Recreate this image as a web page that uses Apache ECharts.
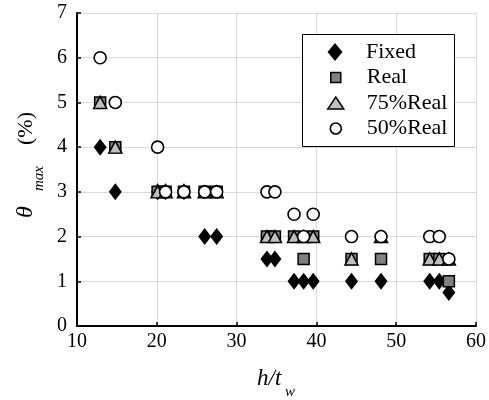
<!DOCTYPE html>
<html>
<head>
<meta charset="utf-8">
<style>
  html, body { margin: 0; padding: 0; background: #fff; }
  #chart { width: 489px; height: 400px; }
</style>
<script src="https://cdn.jsdelivr.net/npm/echarts@6/dist/echarts.min.js"></script>
</head>
<body>
<div id="chart"></div>
<script>
// h/tw of each specimen and theta_max (%) for each model
const hTw     = [12.9, 14.8, 20.1, 21.1, 23.4, 26.0, 27.5, 33.8, 34.8, 37.2, 38.4, 39.6, 44.4, 48.1, 54.2, 55.4, 56.6];
const fixed   = [4.0, 3.0, 3.0, 3.0, 3.0, 2.0, 2.0, 1.5, 1.5, 1.0, 1.0, 1.0, 1.0, 1.0, 1.0, 1.0, 0.75];
const real    = [5.0, 4.0, 3.0, 3.0, 3.0, 3.0, 3.0, 2.0, 2.0, 2.0, 1.5, 2.0, 1.5, 1.5, 1.5, 1.5, 1.0];
const real75  = [5.0, 4.0, 3.0, 3.0, 3.0, 3.0, 3.0, 2.0, 2.0, 2.0, 2.0, 2.0, 1.5, 2.0, 1.5, 1.5, 1.5];
const real50  = [6.0, 5.0, 4.0, 3.0, 3.0, 3.0, 3.0, 3.0, 3.0, 2.5, 2.0, 2.5, 2.0, 2.0, 2.0, 2.0, 1.5];
const seriesNames = ['Fixed', 'Real', '75%Real', '50%Real'];

const FONT = '"Liberation Serif", "DejaVu Serif", serif';
const chart = echarts.init(document.getElementById('chart'));

const pairs = ys => hTw.map((x, i) => [x, ys[i]]);

// marker look per series
const markers = [
  { symbol: 'diamond', size: [13, 17], legendSize: [15, 18], style: { color: '#000', borderColor: '#000', borderWidth: 0, opacity: 1 } },
  { symbol: 'rect', size: [11, 11], legendSize: [10, 10], style: { color: '#808080', borderColor: '#000', borderWidth: 1.5, opacity: 1 } },
  { symbol: 'triangle', size: [13, 12], legendSize: [16, 12], style: { color: '#bfbfbf', borderColor: '#000', borderWidth: 1.5, opacity: 1 } },
  { symbol: 'circle', size: 12, legendSize: [11, 11], style: { color: '#fff', borderColor: '#000', borderWidth: 1.6, opacity: 1 } }
];
const values = [fixed, real, real75, real50];
const legendRows = [52, 77.5, 103, 128.5];

const series = seriesNames.map((name, k) => ({
  name: name,
  type: 'scatter',
  symbol: markers[k].symbol,
  symbolSize: markers[k].size,
  itemStyle: markers[k].style,
  emphasis: { disabled: true },
  data: pairs(values[k])
}));

const legends = seriesNames.map((name, k) => {
  const w = markers[k].legendSize[0], h = markers[k].legendSize[1];
  return {
    data: [name],
    orient: 'vertical',
    left: 335 - w / 2,
    top: legendRows[k] - 11,
    padding: 0,
    itemWidth: w,
    itemHeight: h,
    selectedMode: false,
    itemStyle: { borderWidth: markers[k].style.borderWidth, opacity: 1 },
    textStyle: { fontFamily: FONT, fontSize: 22, color: '#000', padding: [0, 0, 0, 26 - w / 2] }
  };
});

const option = {
  animation: false,
  textStyle: { fontFamily: FONT },
  grid: { left: 77, right: 11, top: 13, bottom: 74 },
  xAxis: {
    type: 'value',
    min: 10,
    max: 60,
    interval: 10,
    axisLine: { lineStyle: { color: '#000', width: 2 } },
    axisTick: { inside: true, length: 4, lineStyle: { color: '#000', width: 1.5 } },
    axisLabel: { fontFamily: FONT, fontSize: 20, color: '#000', margin: 6 },
    splitLine: { show: true, lineStyle: { color: '#d9d9d9', width: 1 } }
  },
  yAxis: {
    type: 'value',
    min: 0,
    max: 7,
    interval: 1,
    axisLine: { show: true, lineStyle: { color: '#000', width: 2 } },
    axisTick: { show: true, inside: true, length: 4, lineStyle: { color: '#000', width: 1.5 } },
    axisLabel: { fontFamily: FONT, fontSize: 20, color: '#000', margin: 10 },
    splitLine: { show: true, lineStyle: { color: '#d9d9d9', width: 1 } }
  },
  legend: legends,
  graphic: [
    {
      type: 'rect',
      z: 3,
      shape: { x: 302.5, y: 34.5, width: 152, height: 112 },
      style: { fill: '#fff', stroke: '#000', lineWidth: 1 }
    },
    {
      // y axis title, rotated to read bottom-up
      type: 'group',
      x: 26,
      y: 218,
      rotation: Math.PI / 2,
      children: [
        { type: 'text', x: 0, y: 0, style: { text: 'θ', font: 'italic 24px ' + FONT, fill: '#000', verticalAlign: 'middle' } },
        { type: 'text', x: 27, y: 13, style: { text: 'max', font: 'italic 15px ' + FONT, fill: '#000', verticalAlign: 'middle' } },
        { type: 'text', x: 73, y: 0, style: { text: '(%)', font: '22px ' + FONT, fill: '#000', verticalAlign: 'middle' } }
      ]
    },
    { type: 'text', x: 257, y: 379, style: { text: 'h/t', font: 'italic 23px ' + FONT, fill: '#000', verticalAlign: 'middle' } },
    { type: 'text', x: 285, y: 392, style: { text: 'w', font: 'italic 15px ' + FONT, fill: '#000', verticalAlign: 'middle' } }
  ],
  series: series
};

chart.setOption(option);
</script>
</body>
</html>
